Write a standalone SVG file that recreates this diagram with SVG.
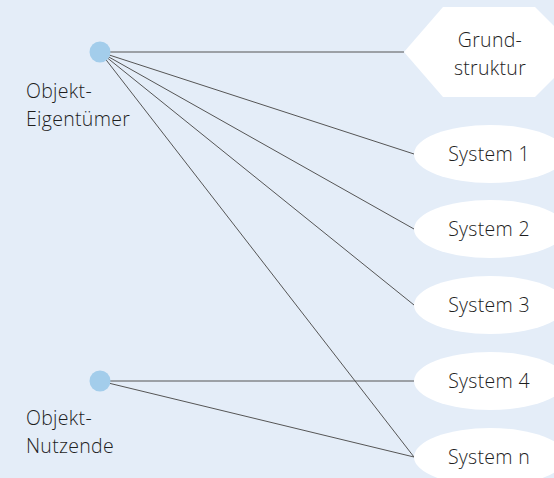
<svg xmlns="http://www.w3.org/2000/svg" width="554" height="478" viewBox="0 0 554 478">
<style>
.bg{fill:#e4edf8}
.dot{fill:#a3cdeb}
.shape{fill:#ffffff}
.lbl{font-family:"Open Sans","DejaVu Sans",sans-serif;font-size:19.5px;font-weight:300;fill:#1e1e1e;letter-spacing:0.3px}
.c{text-anchor:middle}
.ln{stroke:#555555;stroke-width:1;fill:none}
</style>
<rect class="bg" x="0" y="0" width="554" height="478"/>
<g id="connectors">
<line class="ln" x1="100" y1="52" x2="404" y2="52"/>
<line class="ln" x1="100" y1="52" x2="414" y2="154"/>
<line class="ln" x1="100" y1="52" x2="414" y2="229"/>
<line class="ln" x1="100" y1="52" x2="414" y2="305"/>
<line class="ln" x1="100" y1="52" x2="414" y2="457"/>
<line class="ln" x1="100" y1="381" x2="414" y2="381"/>
<line class="ln" x1="100" y1="381" x2="414" y2="457"/>
</g>
<g id="eigentuemer">
<circle class="dot" cx="100" cy="52" r="10.5"/>
<text class="lbl" x="26" y="98">Objekt-</text>
<text class="lbl" x="26" y="126">Eigentümer</text>
</g>
<g id="nutzende">
<circle class="dot" cx="100" cy="381" r="10.5"/>
<text class="lbl" x="26" y="425">Objekt-</text>
<text class="lbl" x="26" y="453">Nutzende</text>
</g>
<g id="grundstruktur">
<polygon class="shape" points="404,52 443,7 535,7 580,52 535,97 443,97"/>
<text class="lbl c" x="490" y="47">Grund-</text>
<text class="lbl c" x="490" y="75">struktur</text>
</g>
<g id="system1">
<ellipse class="shape" cx="490" cy="154" rx="76" ry="29"/>
<text class="lbl c" x="489" y="161">System 1</text>
</g>
<g id="system2">
<ellipse class="shape" cx="490" cy="229" rx="76" ry="29"/>
<text class="lbl c" x="489" y="236">System 2</text>
</g>
<g id="system3">
<ellipse class="shape" cx="490" cy="305" rx="76" ry="29"/>
<text class="lbl c" x="489" y="312">System 3</text>
</g>
<g id="system4">
<ellipse class="shape" cx="490" cy="381" rx="76" ry="29"/>
<text class="lbl c" x="489" y="388">System 4</text>
</g>
<g id="systemn">
<ellipse class="shape" cx="490" cy="457" rx="76" ry="29"/>
<text class="lbl c" x="489" y="464">System n</text>
</g>
</svg>
